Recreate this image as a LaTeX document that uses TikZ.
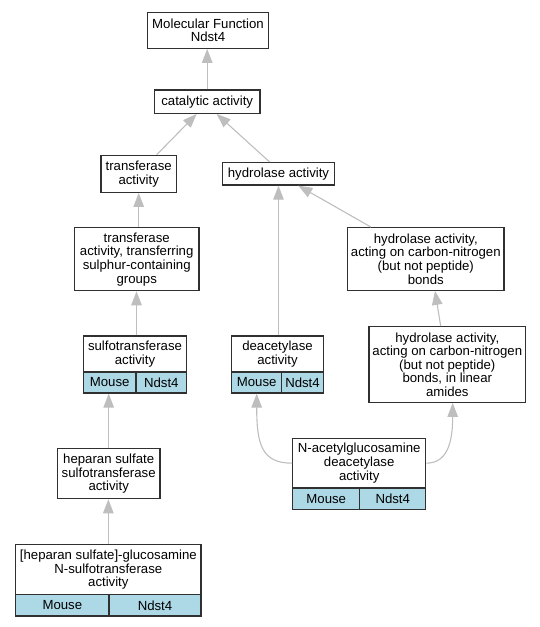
\documentclass[tikz,border=0pt]{standalone}
\usepackage{fontspec}
\setmainfont{Liberation Sans}
\usetikzlibrary{arrows.meta}
\definecolor{boxc}{HTML}{303030}
\definecolor{edgec}{HTML}{BEBEBE}
\definecolor{cellc}{HTML}{ADD8E6}
\newcommand\nodefont{\fontsize{13.2pt}{13.6pt}\selectfont}
\tikzset{
  box/.style={draw=boxc, line width=1.2pt, fill=white, inner sep=0pt, align=center, font=\nodefont, text=black},
  cell/.style={box, fill=cellc},
  edge/.style={draw=edgec, line width=1.1pt, -{Triangle[length=14pt,width=10.5pt]}},
}
\begin{document}
\begin{tikzpicture}[x=1pt,y=-1pt]
\useasboundingbox (0,0) rectangle (540,627);
% nodes
\node[box, minimum width=120.6pt, minimum height=36pt] (mf) at (208,30.3) {Molecular Function\\Ndst4};
\node[box, minimum width=105.7pt, minimum height=23.3pt] (cat) at (207.2,101.7) {catalytic activity};
\node[box, minimum width=75.3pt, minimum height=37pt] (trans) at (138.7,173.8) {transferase\\activity};
\node[box, minimum width=111.6pt, minimum height=22.5pt] (hyd) at (278.5,173.8) {hydrolase activity};
\node[box, minimum width=124.7pt, minimum height=63pt] (sulph) at (136.7,259.2) {transferase\\activity, transferring\\sulphur-containing\\groups};
\node[box, minimum width=156.3pt, minimum height=62.6pt] (hcn) at (425.8,259) {hydrolase activity,\\acting on carbon-nitrogen\\(but not peptide)\\bonds};
% sulfotransferase
\node[box, minimum width=103.4pt, minimum height=36pt] (sulfo) at (135,354) {sulfotransferase\\activity};
\node[cell, minimum width=52.7pt, minimum height=21pt] (sulfoM) at (109.65,382.5) {Mouse};
\node[cell, minimum width=50.7pt, minimum height=21pt] (sulfoN) at (161.35,382.5) {Ndst4};
% deacetylase
\node[box, minimum width=91.6pt, minimum height=36pt] (deac) at (277.5,354) {deacetylase\\activity};
\node[cell, minimum width=50pt, minimum height=21pt] (deacM) at (256.7,382.5) {Mouse};
\node[cell, minimum width=41.6pt, minimum height=21pt] (deacN) at (302.5,382.5) {Ndst4};
% amides
\node[box, minimum width=156.7pt, minimum height=75.6pt] (amide) at (447.3,364.5) {hydrolase activity,\\acting on carbon-nitrogen\\(but not peptide)\\bonds, in linear\\amides};
% heparan sulfate
\node[box, minimum width=102.7pt, minimum height=50pt] (hep) at (108.7,473.7) {heparan sulfate\\sulfotransferase\\activity};
% N-acetylglucosamine
\node[box, minimum width=133pt, minimum height=49.7pt] (nac) at (359.2,463.15) {N-acetylglucosamine\\deacetylase\\activity};
\node[cell, minimum width=67.1pt, minimum height=21.3pt] (nacM) at (326.25,498.65) {Mouse};
\node[cell, minimum width=65.9pt, minimum height=21.3pt] (nacN) at (392.75,498.65) {Ndst4};
% heparan sulfate glucosamine
\node[box, minimum width=185.3pt, minimum height=50pt] (hgs) at (108.35,569.7) {[heparan sulfate]-glucosamine\\N-sulfotransferase\\activity};
\node[cell, minimum width=93.3pt, minimum height=21.3pt] (hgsM) at (62.35,605.35) {Mouse};
\node[cell, minimum width=92pt, minimum height=21.3pt] (hgsN) at (155,605.35) {Ndst4};
% edges
\draw[edge] (cat.north) -- (cat.north |- mf.south);
\draw[edge] ([xshift=18pt]trans.north) -- ([xshift=-10.5pt]cat.south);
\draw[edge] ([xshift=-8.9pt]hyd.north) -- ([xshift=9.5pt]cat.south);
\draw[edge] (trans.south |- sulph.north) -- (trans.south);
\draw[edge] ([xshift=1.5pt]sulfo.north) -- ([xshift=1.5pt]sulfo.north |- sulph.south);
\draw[edge] (hyd.south |- deac.north) -- (hyd.south);
\draw[edge] ([xshift=-54.8pt]hcn.north) -- ([xshift=19.8pt]hyd.south);
\draw[edge] ([xshift=-6.6pt]amide.north) -- ([xshift=9.2pt]hcn.south);
\draw[edge] (hep.north) -- (hep.north |- sulfoM.south);
\draw[edge] (hgs.north) -- (hgs.north |- hep.south);
\draw[edge] (nac.west) .. controls (262,463.15) and (256.7,445) .. (deacM.south);
\draw[edge] (nac.east) .. controls (446,463.15) and (452.7,445) .. ([xshift=5.4pt]amide.south);
\end{tikzpicture}
\end{document}
